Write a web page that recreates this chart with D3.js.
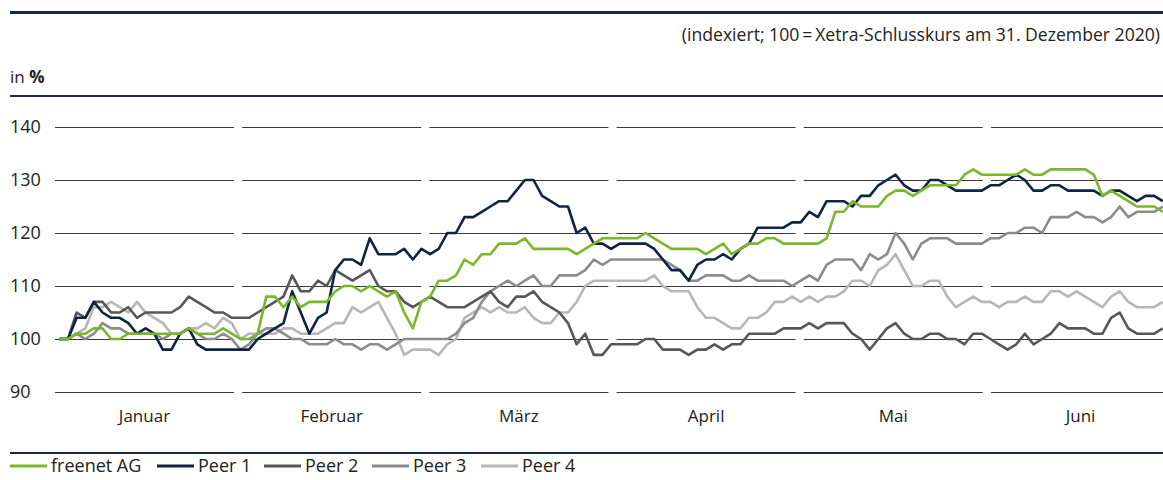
<!DOCTYPE html>
<html>
<head>
<meta charset="utf-8">
<script src="https://cdn.jsdelivr.net/npm/d3@7"></script>
<style>
  body { margin: 0; background: #fff; }
  svg text { font-family: "Open Sans", sans-serif; fill: #222; }
</style>
</head>
<body>
<svg id="chart" width="1163" height="480"></svg>
<script>
// months on the x axis, y ticks
var months = ["Januar", "Februar", "März", "April", "Mai", "Juni"];
var yTicks = [90, 100, 110, 120, 130, 140];

// daily index values (trading days, 31.12.2020 = 100)
var freenet = [100,100,101,101,102,102,100,100,101,101,101,101,101,101,101,102,101,101,101,102,101,100,100,101,108,108,
  106,108,106,107,107,107,109,110,110,109,110,109,108,109,105,102,107,108,111,111,112,115,114,116,116,
  118,118,118,119,117,117,117,117,117,116,117,118,119,119,119,119,119,120,119,118,117,117,117,117,116,117,
  118,116,117,118,118,119,119,118,118,118,118,118,119,124,124,126,125,125,125,127,128,128,127,128,129,129,
  129,129,131,132,131,131,131,131,131,132,131,131,132,132,132,132,132,131,127,128,127,126,125,125,125,124];
var peer1 = [100,100,104,104,107,105,104,104,103,101,102,101,98,98,101,102,99,98,98,98,98,98,98,100,101,102,
  103,109,105,101,104,105,113,115,115,114,119,116,116,116,117,115,117,116,117,120,120,123,123,124,125,
  126,126,128,130,130,127,126,125,125,120,121,118,118,117,118,118,118,118,117,115,113,113,111,114,115,115,
  116,115,117,118,121,121,121,121,122,122,124,123,126,126,126,125,127,127,129,130,131,129,128,128,130,130,
  129,128,128,128,128,129,129,130,131,130,128,128,129,129,128,128,128,128,127,128,128,127,126,127,127,126];
var peer2 = [100,100,105,104,107,107,105,105,106,104,105,105,105,105,106,108,107,106,105,105,104,104,104,105,106,107,
  108,112,109,109,111,110,113,112,111,112,113,110,109,109,107,106,107,108,107,106,106,106,107,108,109,
  107,106,108,108,109,107,106,105,103,99,101,97,97,99,99,99,99,100,100,98,98,98,97,98,98,99,
  98,99,99,101,101,101,101,102,102,102,103,102,103,103,103,101,100,98,100,102,103,101,100,100,101,101,
  100,100,99,101,101,100,99,98,99,101,99,100,101,103,102,102,102,101,101,104,105,102,101,101,101,102];
var peer3 = [100,100,101,100,101,103,102,102,101,101,101,101,100,101,101,102,101,100,100,101,100,98,99,101,102,102,
  101,100,100,99,99,99,100,99,99,98,99,99,98,99,100,100,100,100,100,100,101,103,104,107,109,
  110,111,110,111,112,110,110,112,112,112,113,115,114,115,115,115,115,115,115,115,114,113,111,111,112,112,
  112,111,111,112,111,111,111,111,110,111,112,111,114,115,115,115,113,116,115,116,120,118,115,118,119,119,
  119,118,118,118,118,119,119,120,120,121,121,120,123,123,123,124,123,123,122,123,125,123,124,124,124,125];
var peer4 = [100,100,101,102,106,106,107,106,105,107,105,104,103,101,101,102,102,103,102,104,103,100,101,101,101,101,
  102,102,101,101,101,102,103,103,106,105,106,107,104,101,97,98,98,98,97,99,100,104,105,106,105,
  106,105,105,106,104,103,103,105,105,107,110,111,111,111,111,111,111,111,112,110,109,109,109,106,104,104,
  103,102,102,104,104,105,107,107,108,107,108,107,108,108,109,111,111,110,113,114,116,113,110,110,111,111,
  108,106,107,108,107,107,106,107,107,108,107,107,109,109,108,109,108,107,106,108,109,107,106,106,106,107];

var seriesNames = ["freenet AG", "Peer 1", "Peer 2", "Peer 3", "Peer 4"];
var seriesColors = ["#7ab829", "#0f2444", "#575757", "#8c8c8c", "#b7b7b7"];
var seriesData = [freenet, peer1, peer2, peer3, peer4];

var navy = "#13284a";
var svg = d3.select("#chart");

var x = d3.scaleLinear().domain([0, freenet.length - 1]).range([59.4, 1162.8]);
var y = d3.scaleLinear().domain([90, 140]).range([392, 127]);
var xm = d3.scaleBand().domain(months).range([50.9, 1174.1])
  .paddingInner(0.044).paddingOuter(0.022);

// header rules and texts
svg.append("rect").attr("x", 10).attr("y", 11).attr("width", 1153).attr("height", 3).attr("fill", navy);
svg.append("text")
  .attr("x", 1160).attr("y", 41)
  .attr("text-anchor", "end")
  .style("font-size", "17.6px")
  .text("(indexiert; 100\u2009=\u2009Xetra-Schlusskurs am 31. Dezember 2020)");
var unit = svg.append("text").attr("x", 10).attr("y", 83).style("font-size", "17px");
unit.append("tspan").text("in ");
unit.append("tspan").style("font-weight", "bold").text("%");
svg.append("rect").attr("x", 10).attr("y", 95).attr("width", 1153).attr("height", 2).attr("fill", navy);

// grid lines, broken at each month
var grid = svg.append("g");
yTicks.forEach(function(t) {
  months.forEach(function(m) {
    grid.append("line")
      .attr("x1", xm(m)).attr("x2", xm(m) + xm.bandwidth())
      .attr("y1", Math.round(y(t)) + 0.5).attr("y2", Math.round(y(t)) + 0.5)
      .attr("stroke", "#3a3a3a").attr("stroke-width", 1);
  });
  svg.append("text")
    .attr("x", 10).attr("y", y(t))
    .attr("dy", "0.36em")
    .style("font-size", "18px")
    .text(t);
});

// month labels
svg.selectAll(".month")
  .data(months)
  .enter()
  .append("text")
  .attr("class", "month")
  .attr("x", function(d) { return xm(d) + xm.bandwidth() / 2; })
  .attr("y", 422)
  .attr("text-anchor", "middle")
  .style("font-size", "17px")
  .text(function(d) { return d; });

// lines: light ones first, freenet on top
var line = d3.line()
  .x(function(d, i) { return x(i); })
  .y(function(d) { return y(d); });

for (var k = seriesData.length - 1; k >= 0; k--) {
  svg.append("path")
    .datum(seriesData[k])
    .attr("fill", "none")
    .attr("stroke", seriesColors[k])
    .attr("stroke-width", 2.6)
    .attr("stroke-linejoin", "round")
    .attr("d", line);
}

// bottom rule and legend
svg.append("rect").attr("x", 10).attr("y", 452).attr("width", 1153).attr("height", 2).attr("fill", navy);
var legendX = [10, 157, 264, 372, 481];
var legend = svg.selectAll(".legend")
  .data(seriesNames)
  .enter()
  .append("g")
  .attr("class", "legend")
  .attr("transform", function(d, i) { return "translate(" + legendX[i] + ",466)"; });
legend.append("line")
  .attr("x1", 0).attr("x2", 37)
  .attr("stroke", function(d, i) { return seriesColors[i]; })
  .attr("stroke-width", 3);
legend.append("text")
  .attr("x", 41).attr("dy", "0.36em")
  .style("font-size", "18px")
  .text(function(d) { return d; });
</script>
</body>
</html>
